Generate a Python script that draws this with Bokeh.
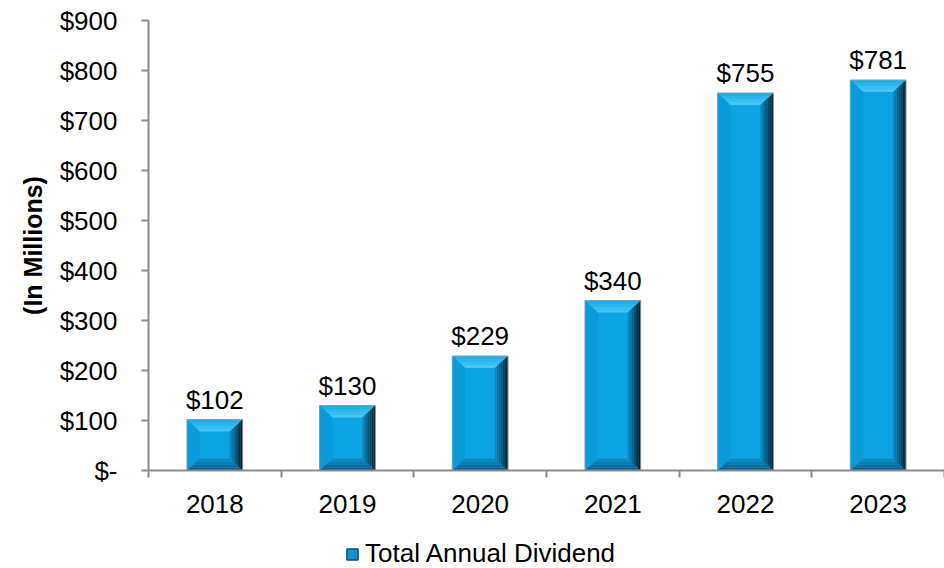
from bokeh.plotting import figure
from bokeh.layouts import column
from bokeh.models import (Range1d, FixedTicker, CustomJSTickFormatter, LabelSet,
                          ColumnDataSource, Legend, LegendItem)
from bokeh.core.properties import value
from bokeh.embed import file_html
from bokeh.resources import INLINE

# ---- data ----
years = ["2018", "2019", "2020", "2021", "2022", "2023"]
dividends = [102, 130, 229, 340, 755, 781]
value_labels = ["$102", "$130", "$229", "$340", "$755", "$781"]
y_ticks = [0, 100, 200, 300, 400, 500, 600, 700, 800, 900]
y_tick_labels = ["$-", "$100", "$200", "$300", "$400", "$500", "$600", "$700", "$800", "$900"]
series_name = "Total Annual Dividend"
y_title = "(In Millions)"

FONT = "Liberation Sans"
AXIS_COLOR = "#8c8c8c"
FS = "26px"
FACE = "#0ca4e4"

n = len(years)
p = figure(width=944, height=530, output_backend="svg", toolbar_location=None,
           x_range=Range1d(0, n), y_range=Range1d(y_ticks[0], y_ticks[-1]),
           min_border_left=148, min_border_right=0, min_border_top=20,
           min_border_bottom=60)
p.outline_line_color = None
p.xgrid.visible = False
p.ygrid.visible = False
p.background_fill_color = "white"
p.border_fill_color = "white"

xs = [i + 0.5 for i in range(n)]
bar_w = 0.42
half = bar_w / 2
src = ColumnDataSource(dict(x=xs, top=dividends, label=value_labels))

# bevel size (data units, derived from the scale: ~13px horizontally, ~12px vertically)
frame_w_px = 796.0
frame_h_px = 450.0
bx = 13.0 * n / frame_w_px
by = 12.0 * (y_ticks[-1] - y_ticks[0]) / frame_h_px

face = p.vbar(x="x", top="top", bottom=0, width=bar_w, source=src,
              fill_color=FACE, line_color=None)


def hexmix(c1, c2, t):
    a = [int(c1[i:i + 2], 16) for i in (1, 3, 5)]
    b = [int(c2[i:i + 2], 16) for i in (1, 3, 5)]
    return "#%02x%02x%02x" % tuple(round(a[k] + (b[k] - a[k]) * t) for k in range(3))


# left bevel
lx, ly = [], []
for x, v in zip(xs, dividends):
    L = x - half
    lx.append([L, L + bx, L + bx, L])
    ly.append([v, v - by, by, 0])
p.patches(lx, ly, fill_color="#0a9bdb", line_color=None)

# bottom bevel (gradient strips)
NB = 4
for k in range(NB):
    t0, t1 = k / NB, (k + 1) / NB
    bxs, bys = [], []
    for x, v in zip(xs, dividends):
        L, R = x - half, x + half
        bxs.append([L + bx * t0, R - bx * t0, R - bx * t1, L + bx * t1])
        bys.append([by * t0, by * t0, by * t1, by * t1])
    p.patches(bxs, bys, fill_color=hexmix("#0a5f8e", "#0b93cf", t0), line_color=None)

# top bevel (gradient strips)
NT = 4
for k in range(NT):
    t0, t1 = k / NT, (k + 1) / NT
    txs, tys = [], []
    for x, v in zip(xs, dividends):
        L, R = x - half, x + half
        txs.append([L + bx * t0, R - bx * t0, R - bx * t1, L + bx * t1])
        tys.append([v - by * t0, v - by * t0, v - by * t1, v - by * t1])
    p.patches(txs, tys, fill_color=hexmix("#20aeea", "#52cdf7", t0), line_color=None)

# right bevel (dark gradient strips)
NR = 7
for k in range(NR):
    t0, t1 = k / NR, (k + 1) / NR
    rxs, rys = [], []
    for x, v in zip(xs, dividends):
        R = x + half
        rxs.append([R - bx * t0, R - bx * t1, R - bx * t1, R - bx * t0])
        rys.append([v - by * t0, v - by * t1, by * t1, by * t0])
    p.patches(rxs, rys, fill_color=hexmix("#041f2e", "#0b98d6", t0), line_color=None)

# thin outline
p.vbar(x="x", top="top", bottom=0, width=bar_w, source=src,
       fill_color=None, line_color="#8a9aa6", line_width=1)

# value labels
labels = LabelSet(x="x", y="top", text="label", source=src, y_offset=5,
                  text_align="center", text_baseline="bottom",
                  text_font=value(FONT), text_font_size=value(FS), text_color="black")
p.add_layout(labels)

# x axis: labels at centres, ticks at category boundaries (minor ticks)
xa = p.xaxis[0]
xa.ticker = FixedTicker(ticks=xs, minor_ticks=list(range(n + 1)))
xa.formatter = CustomJSTickFormatter(args=dict(cat_names=years),
                                     code="return cat_names[Math.floor(tick)];")
xa.major_tick_line_color = None
xa.major_tick_out = 0
xa.major_tick_in = 0
xa.minor_tick_line_color = AXIS_COLOR
xa.minor_tick_line_width = 2
xa.minor_tick_out = 7
xa.minor_tick_in = 0
xa.axis_line_color = AXIS_COLOR
xa.axis_line_width = 2
xa.major_label_text_font = FONT
xa.major_label_text_font_size = FS
xa.major_label_text_color = "black"
xa.major_label_standoff = 17

# y axis
ya = p.yaxis[0]
ya.ticker = FixedTicker(ticks=y_ticks)
ya.formatter = CustomJSTickFormatter(args=dict(tvals=y_ticks, tnames=y_tick_labels),
                                     code="const i = tvals.indexOf(tick); return i >= 0 ? tnames[i] : '';")
ya.minor_tick_line_color = None
ya.major_tick_out = 7
ya.major_tick_in = 0
ya.major_tick_line_color = AXIS_COLOR
ya.major_tick_line_width = 2
ya.axis_line_color = AXIS_COLOR
ya.axis_line_width = 2
ya.major_label_text_font = FONT
ya.major_label_text_font_size = FS
ya.major_label_text_color = "black"
ya.major_label_standoff = 24
ya.axis_label = y_title
ya.axis_label_text_font = FONT
ya.axis_label_text_font_style = "bold"
ya.axis_label_text_font_size = "25px"
ya.axis_label_text_color = "black"
ya.axis_label_standoff = 10

# ---- legend strip (separate small figure under the chart) ----
lg = figure(width=944, height=38, output_backend="svg", toolbar_location=None,
            x_range=Range1d(0, 1), y_range=Range1d(0, 1),
            x_axis_type=None, y_axis_type=None,
            min_border_left=0, min_border_right=0, min_border_top=0, min_border_bottom=0)
lg.outline_line_color = None
lg.xgrid.visible = False
lg.ygrid.visible = False
# the swatch renderer's single point lies outside the strip's range, so only its legend swatch shows
lg_src = ColumnDataSource(dict(x=[-5], top=[-5]))
lg_bar = lg.vbar(x="x", top="top", bottom=-6, width=0.1, source=lg_src,
                 fill_color="#0a94d2", line_color="#14506f", line_width=1.5)
legend = Legend(items=[LegendItem(label=series_name, renderers=[lg_bar])],
                location=(197, -1), orientation="horizontal",
                glyph_width=14, glyph_height=14, label_standoff=6,
                label_text_font=FONT, label_text_font_size=FS,
                label_text_color="black", border_line_color=None,
                background_fill_alpha=0, padding=0, margin=0)
lg.add_layout(legend, "center")

layout = column(p, lg, spacing=0)
open("out.html", "w").write(file_html(layout, INLINE))
